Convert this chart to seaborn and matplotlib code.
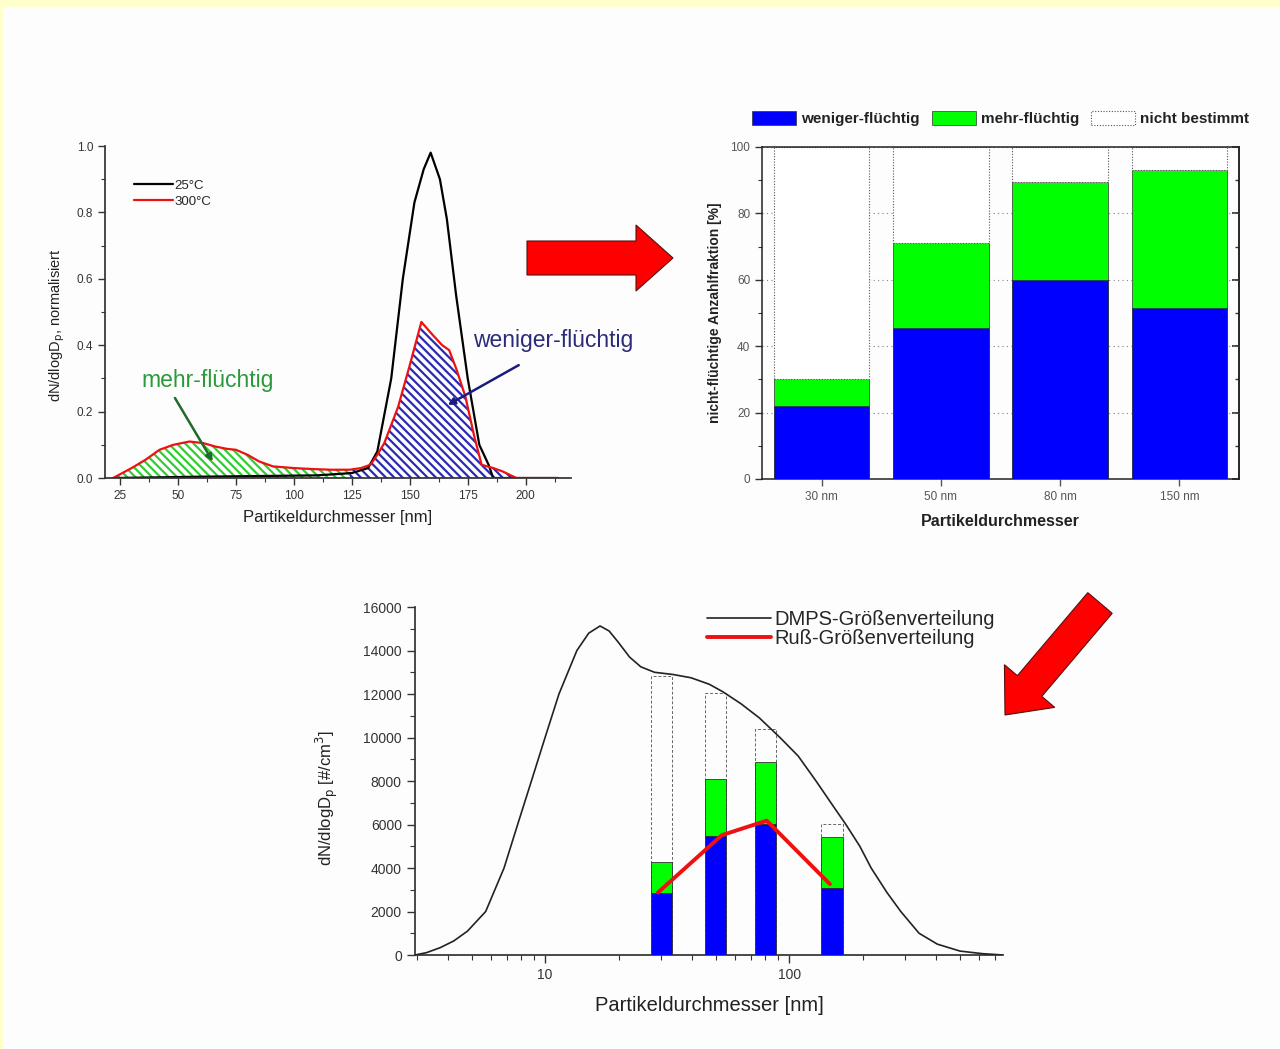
import numpy as np
import seaborn as sns
import matplotlib.pyplot as plt
import matplotlib.patches as mpatches
from matplotlib.ticker import MultipleLocator, FixedLocator, NullFormatter, LogLocator

# ---- data: normalised size distributions (top left) ----
d_25 = [22, 60, 110, 125, 132, 136, 142, 147, 152, 156, 159, 163, 166, 170, 175, 180, 184, 186, 200, 214]
n_25 = [0.0, 0.004, 0.008, 0.015, 0.03, 0.08, 0.3, 0.6, 0.83, 0.93, 0.98, 0.9, 0.78, 0.55, 0.3, 0.1, 0.04, 0.0, 0.0, 0.0]

d_300 = [22, 30, 36, 42, 48, 55, 61, 66, 71, 75, 80, 85, 91, 100, 108, 116, 124,
         129, 133, 136, 139, 145, 150, 155, 160, 164, 167, 170, 174, 178, 181, 186, 190, 196, 205, 214]
n_300 = [0.0, 0.03, 0.055, 0.085, 0.1, 0.11, 0.105, 0.095, 0.088, 0.085, 0.07, 0.05, 0.035, 0.03, 0.027, 0.025, 0.025,
         0.03, 0.04, 0.07, 0.105, 0.215, 0.34, 0.47, 0.43, 0.4, 0.385, 0.33, 0.245, 0.12, 0.04, 0.03, 0.02, 0.0, 0.0, 0.0]
split_nm = 124

# ---- data: non-volatile number fraction (top right) ----
sizes = ['30 nm', '50 nm', '80 nm', '150 nm']
weniger = [22, 45.5, 60, 51.5]
mehr = [8, 25.5, 29.5, 41.5]

# ---- data: DMPS distribution and soot distribution (bottom) ----
dmps_d = [2.93, 3.27, 3.72, 4.23, 4.81, 5.71, 6.79, 7.72, 8.79, 10, 11.4, 13.5, 15.1, 16.8, 18.3, 19.9, 22.2,
          24.7, 28.1, 33.4, 39.6, 47.1, 53.6, 63.6, 75.6, 91.8, 109, 129, 150.5, 171, 195, 217, 252, 287, 341,
          405, 502, 623, 753]
dmps_n = [0, 110, 340, 650, 1100, 2000, 4000, 6000, 8000, 10000, 12000, 14000, 14800, 15130, 14900, 14400, 13700,
          13250, 13000, 12900, 12750, 12450, 12100, 11550, 10900, 10000, 9150, 8000, 6900, 6000, 5000, 4000, 2870,
          2000, 1000, 500, 180, 60, 0]
bar_d = [30, 50, 80, 150]
bar_total = [12830, 12040, 10370, 6020]
bar_weniger = [2830, 5480, 6020, 3070]
bar_mehr = [1460, 2620, 2870, 2370]
russ_d = [29, 53, 81, 147]
russ_n = [2870, 5510, 6180, 3260]

sns.set_theme(style='ticks')
plt.rcParams['font.family'] = ['Liberation Sans', 'DejaVu Sans']
plt.rcParams['hatch.linewidth'] = 1.6
plt.rcParams['axes.edgecolor'] = '#333333'
plt.rcParams['xtick.color'] = '#333333'
plt.rcParams['ytick.color'] = '#333333'

fig = plt.figure(figsize=(12.8, 10.49), dpi=100, facecolor='#ffffcc')

# background page in pixel coordinates
bg = fig.add_axes([0, 0, 1, 1], zorder=-1)
bg.set_xlim(0, 1280)
bg.set_ylim(1049, 0)
bg.axis('off')
bg.add_patch(mpatches.Rectangle((3, 7), 1277, 1042, facecolor='#fdfdfd', edgecolor='none'))

# ================= top left =================
ax1 = fig.add_axes([0.082, 0.5443, 0.364, 0.3165])
ax1.set_facecolor('none')
d3 = np.array(d_300)
n3 = np.array(n_300)
ax1.fill_between(d3, n3, where=d3 <= split_nm, facecolor='white', edgecolor='#33cc33', hatch='\\\\\\\\', linewidth=0)
ax1.fill_between(d3, n3, where=d3 >= split_nm, facecolor='white', edgecolor='#2a2ab4', hatch='\\\\\\\\', linewidth=0)
sns.lineplot(x=d_25, y=n_25, ax=ax1, color='black', linewidth=1.6, label='25°C')
sns.lineplot(x=d_300, y=n_300, ax=ax1, color='#ee1111', linewidth=1.6, label='300°C')
ax1.set_xlim(18.5, 219.5)
ax1.set_ylim(0, 1.0)
ax1.xaxis.set_major_locator(FixedLocator([25, 50, 75, 100, 125, 150, 175, 200]))
ax1.xaxis.set_minor_locator(MultipleLocator(12.5))
ax1.yaxis.set_major_locator(MultipleLocator(0.2))
ax1.yaxis.set_minor_locator(MultipleLocator(0.1))
ax1.yaxis.set_major_formatter(plt.FormatStrFormatter('%.1f'))
ax1.tick_params(which='major', length=5, width=1, labelsize=8.5, direction='out')
ax1.tick_params(which='minor', length=3, width=0.8, direction='out')
sns.despine(ax=ax1)
ax1.set_xlabel('Partikeldurchmesser [nm]', fontsize=12, color='#222222', labelpad=6)
ax1.set_ylabel(r'dN/dlogD$_{\mathrm{p}}$, normalisiert', fontsize=10.5, color='#222222')
ax1.yaxis.set_label_coords(-0.082, 0.46)
ax1.legend(loc='upper left', bbox_to_anchor=(0.05, 0.915), frameon=False, fontsize=9.5,
           handlelength=3.0, handletextpad=0.1, labelspacing=0.3, borderaxespad=0)
ax1.text(63, 0.295, 'mehr-flüchtig', ha='center', va='center', fontsize=16.5, color='#2a9a3a')
ax1.annotate('', xy=(65, 0.05), xytext=(48.7, 0.241),
             arrowprops=dict(arrowstyle='-|>', color='#1f6b2a', lw=1.8, mutation_scale=10, shrinkA=0, shrinkB=0))
ax1.text(212, 0.413, 'weniger-flüchtig', ha='center', va='center', fontsize=16.5, color='#2b2b7a', clip_on=False)
ax1.annotate('', xy=(166.4, 0.22), xytext=(197, 0.34), annotation_clip=False,
             arrowprops=dict(arrowstyle='-|>', color='#1c1c80', lw=1.8, mutation_scale=10, shrinkA=0, shrinkB=0))

# ================= top right =================
ax2 = fig.add_axes([0.5953, 0.5434, 0.3727, 0.3165])
ax2.set_facecolor('none')
top = [w + m for w, m in zip(weniger, mehr)]
rest = [100 - t for t in top]
ax2.yaxis.grid(True, linestyle=(0, (1, 3)), color='#888888', linewidth=0.8)
ax2.set_axisbelow(True)
sns.barplot(x=sizes, y=top, ax=ax2, color='#00ff00', saturation=1, width=0.8, label='mehr-flüchtig',
            edgecolor='#333333', linewidth=0.5, zorder=2)
sns.barplot(x=sizes, y=weniger, ax=ax2, color='#0000ff', saturation=1, width=0.8, label='weniger-flüchtig',
            edgecolor='#333333', linewidth=0.5, zorder=3)
ax2.bar(np.arange(len(sizes)), rest, bottom=top, width=0.8, facecolor='white', edgecolor='#555555',
        linestyle=(0, (1, 1.5)), linewidth=0.8, label='nicht bestimmt', zorder=2)
ax2.set_xlim(-0.5, 3.5)
ax2.set_ylim(0, 100)
ax2.yaxis.set_major_locator(MultipleLocator(20))
ax2.yaxis.set_minor_locator(MultipleLocator(10))
ax2.tick_params(which='major', length=5, width=1, labelsize=8.5, direction='out')
ax2.tick_params(which='minor', length=3, width=0.8, direction='out')
ax2.tick_params(axis='x', length=5, labelsize=8.5, colors='#555555')
ax2.tick_params(axis='y', labelcolor='#555555')
sec = ax2.secondary_yaxis('right')
sec.yaxis.set_major_locator(MultipleLocator(20))
sec.yaxis.set_minor_locator(MultipleLocator(10))
sec.tick_params(which='major', direction='in', length=5, labelright=False)
sec.tick_params(which='minor', direction='in', length=3)
for s in ax2.spines.values():
    s.set_linewidth(1.1)
    s.set_color('#222222')
ax2.set_xlabel('Partikeldurchmesser', fontsize=11.5, fontweight='bold', color='#222222', labelpad=8)
ax2.set_ylabel('nicht-flüchtige Anzahlfraktion [%]', fontsize=10, fontweight='bold', color='#222222', labelpad=6)
h, l = ax2.get_legend_handles_labels()
order = [l.index('weniger-flüchtig'), l.index('mehr-flüchtig'), l.index('nicht bestimmt')]
leg2 = ax2.legend([h[i] for i in order], [l[i] for i in order], loc='lower center', bbox_to_anchor=(0.5, 1.045),
                  ncol=3, frameon=False, fontsize=11, handlelength=2.9, handleheight=1.0,
                  handletextpad=0.3, columnspacing=0.8, borderaxespad=0)
for t in leg2.get_texts():
    t.set_fontweight('bold')
    t.set_color('#222222')

# ================= bottom =================
ax3 = fig.add_axes([0.3242, 0.0896, 0.4594, 0.3317])
ax3.set_facecolor('none')
ax3.set_xscale('log')
half = 10 ** 0.044
bd = np.array(bar_d, dtype=float)
left = bd / half
wid = bd * half - left
ax3.bar(left, bar_total, width=wid, align='edge', facecolor='none', edgecolor='#666666',
        linestyle=(0, (3, 2)), linewidth=0.7, zorder=2)
ax3.bar(left, bar_mehr, bottom=bar_weniger, width=wid, align='edge', facecolor='#00ff00',
        edgecolor='#333333', linewidth=0.6, zorder=3)
ax3.bar(left, bar_weniger, width=wid, align='edge', facecolor='#0000ff', edgecolor='#333333',
        linewidth=0.6, zorder=3)
sns.lineplot(x=dmps_d, y=dmps_n, ax=ax3, color='#222222', linewidth=1.2, label='DMPS-Größenverteilung', zorder=4)
sns.lineplot(x=russ_d, y=russ_n, ax=ax3, color='#ee1111', linewidth=2.8, label='Ruß-Größenverteilung', zorder=5)
ax3.set_xlim(2.93, 753)
ax3.set_ylim(0, 16000)
ax3.yaxis.set_major_locator(MultipleLocator(2000))
ax3.yaxis.set_minor_locator(MultipleLocator(1000))
ax3.xaxis.set_major_locator(FixedLocator([10, 100]))
ax3.xaxis.set_major_formatter(plt.FixedFormatter(['10', '100']))
ax3.xaxis.set_minor_locator(LogLocator(base=10, subs=np.arange(2, 10)))
ax3.xaxis.set_minor_formatter(NullFormatter())
ax3.tick_params(which='major', length=6, width=1, labelsize=10, direction='out')
ax3.tick_params(which='minor', length=3.5, width=0.8, direction='out')
sns.despine(ax=ax3)
ax3.set_xlabel('Partikeldurchmesser [nm]', fontsize=14.5, color='#222222', labelpad=10)
ax3.set_ylabel(r'dN/dlogD$_{\mathrm{p}}$ [#/cm$^3$]', fontsize=12, color='#222222')
ax3.yaxis.set_label_coords(-0.128, 0.45)
ax3.legend(loc='upper right', bbox_to_anchor=(1.0, 1.015), frameon=False, fontsize=14.5,
           handlelength=3.2, handletextpad=0.15, labelspacing=0.0, borderaxespad=0)

# red block arrows on top of everything, in pixel coordinates
fg = fig.add_axes([0, 0, 1, 1], zorder=10)
fg.set_xlim(0, 1280)
fg.set_ylim(1049, 0)
fg.axis('off')
fg.add_patch(mpatches.FancyArrow(527, 258, 146, 0, width=34, head_width=66, head_length=37,
                                 length_includes_head=True, facecolor='#ff0000', edgecolor='#551111', lw=0.8))
fg.add_patch(mpatches.FancyArrow(1100, 603, -95, 112, width=32, head_width=66, head_length=38,
                                 length_includes_head=True, facecolor='#ff0000', edgecolor='#551111', lw=0.8))

fig.savefig('out.png', dpi=100, facecolor=fig.get_facecolor())
